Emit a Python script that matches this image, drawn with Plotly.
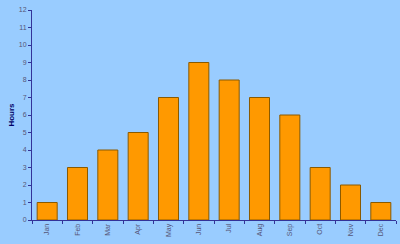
import plotly.graph_objects as go

months = ["Jan", "Feb", "Mar", "Apr", "May", "Jun", "Jul", "Aug", "Sep", "Oct", "Nov", "Dec"]
hours = [1, 3, 4, 5, 7, 9, 8, 7, 6, 3, 2, 1]
y_ticks = list(range(0, 13))

fig = go.Figure(go.Bar(
    x=months, y=hours,
    marker=dict(color="#FF9900", line=dict(color="#8A5A00", width=1)),
))
fig.update_layout(
    width=400, height=244,
    margin=dict(l=32, r=4, t=10, b=24),
    paper_bgcolor="#99CCFF", plot_bgcolor="#99CCFF",
    bargap=0.34, showlegend=False,
    font=dict(family="Arial, Liberation Sans", size=7, color="#555577"),
)
fig.update_xaxes(
    type="category", tickangle=-90, showgrid=False,
    showline=True, linecolor="#333399", linewidth=1,
    ticks="outside", ticklen=3, tickcolor="#333399",
    tickson="boundaries", tickfont=dict(size=7, color="#555577"),
)
fig.update_yaxes(
    range=[0, 12], tickvals=y_ticks, showgrid=False, zeroline=False,
    showline=True, linecolor="#333399", linewidth=1,
    ticks="outside", ticklen=3, tickcolor="#333399",
    tickfont=dict(size=7, color="#555577"),
    title=dict(text="<b>Hours</b>", font=dict(size=8, color="#000066"), standoff=3),
)
fig.write_html("out.html")
